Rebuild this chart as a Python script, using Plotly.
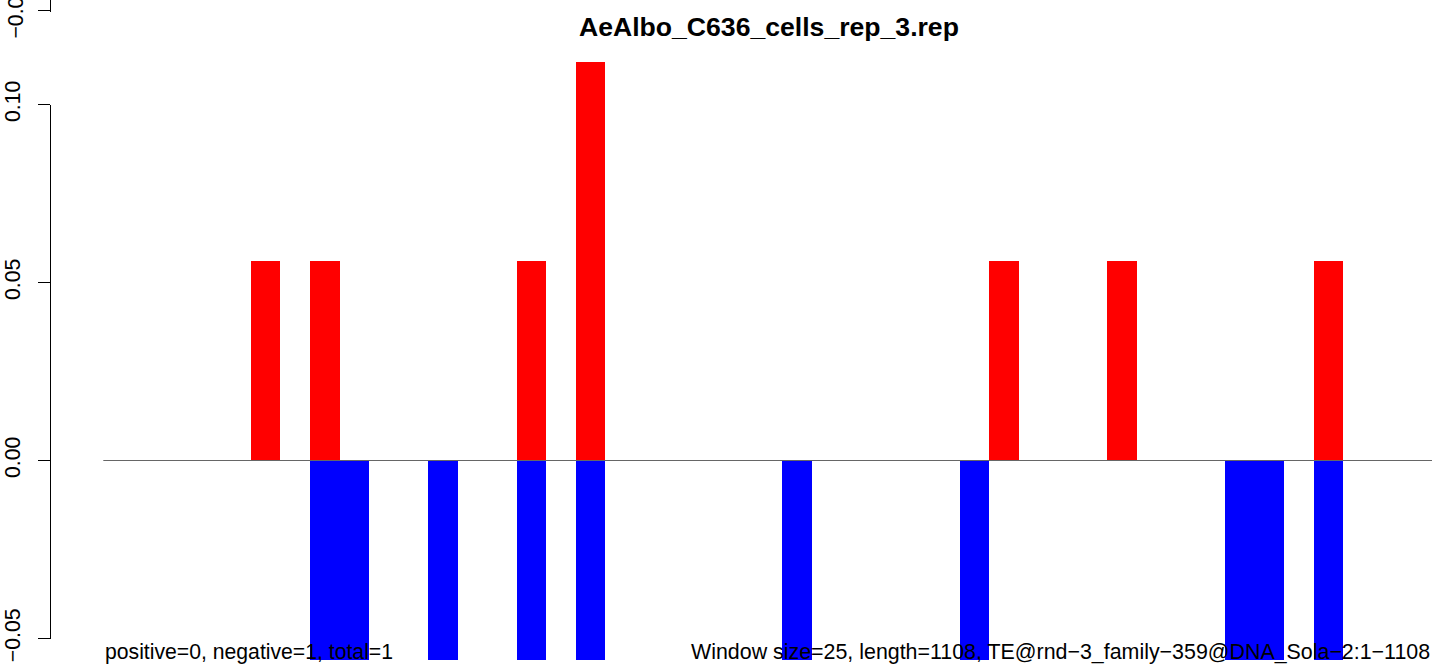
import plotly.graph_objects as go

# ---- data ----
window_index = list(range(45))
pos_values = [0, 0, 0, 0, 0, 0.056, 0, 0.056, 0, 0,
              0, 0, 0, 0, 0.056, 0, 0.112, 0, 0, 0,
              0, 0, 0, 0, 0, 0, 0, 0, 0, 0,
              0.056, 0, 0, 0, 0.056, 0, 0, 0, 0, 0,
              0, 0.056, 0, 0, 0]
neg_values = [0, 0, 0, 0, 0, 0, 0, -0.056, -0.056, 0,
              0, -0.056, 0, 0, -0.056, 0, -0.056, 0, 0, 0,
              0, 0, 0, -0.056, 0, 0, 0, 0, 0, -0.056,
              0, 0, 0, 0, 0, 0, 0, 0, -0.056, -0.056,
              0, -0.056, 0, 0, 0]
y_ticks = [-0.05, 0.00, 0.05, 0.10]
y_tick_labels = ["\u22120.05", "0.00", "0.05", "0.10"]
title_text = "AeAlbo_C636_cells_rep_3.rep"
left_note = "positive=0, negative=1, total=1"
right_note = "Window size=25, length=1108, TE@rnd\u22123_family\u2212359@DNA_Sola\u22122:1\u22121108"

# ---- geometry (pixels) ----
W, H = 1439, 671
x0_px, x1_px = 103.3, 1432.0
n = len(window_index)
ppu_x = (x1_px - x0_px) / n
y0_px = 460.5           # value 0
ppu_y = 178.0 / 0.05    # pixels per unit
axis_x_px = 50.0
font = "Liberation Sans, Arial, Helvetica, sans-serif"

x_range = [-x0_px / ppu_x, (W - x0_px) / ppu_x]
y_range = [-(H - y0_px) / ppu_y, y0_px / ppu_y]

centers = [i + 0.5 for i in window_index]

fig = go.Figure()
fig.add_trace(go.Bar(x=centers, y=pos_values, width=1, marker=dict(color="#FF0000", line=dict(width=0)),
                     showlegend=False, hoverinfo="skip"))
fig.add_trace(go.Bar(x=centers, y=neg_values, width=1, marker=dict(color="#0000FF", line=dict(width=0)),
                     showlegend=False, hoverinfo="skip"))
# zero line
fig.add_trace(go.Scatter(x=[0, n], y=[0, 0], mode="lines", line=dict(color="#666666", width=1),
                         showlegend=False, hoverinfo="skip"))

# axis for main ticks (-0.05..0.10)
top_px = y0_px - 0.10 * ppu_y
bot_px = y0_px + 0.05 * ppu_y
dom2 = [(H - bot_px) / H, (H - top_px) / H]
# partial axis from panel above (tick at ~10 px)
dom3 = [(H - 12.0) / H, 1.0]

fig.add_trace(go.Scatter(x=[None], y=[None], xaxis="x", yaxis="y2", showlegend=False, hoverinfo="skip"))
fig.add_trace(go.Scatter(x=[None], y=[None], xaxis="x", yaxis="y3", showlegend=False, hoverinfo="skip"))

common_axis = dict(
    anchor="free", position=axis_x_px / W, showline=True, linecolor="black", linewidth=1,
    ticks="outside", ticklen=12, tickwidth=1, tickcolor="black", tickangle=-90,
    showgrid=False, zeroline=False, tickfont=dict(family=font, size=21.2, color="black"),
    ticklabelstandoff=10, fixedrange=True, automargin=False,
)

fig.update_layout(
    width=W, height=H,
    margin=dict(l=0, r=0, t=0, b=0, autoexpand=False),
    paper_bgcolor="white", plot_bgcolor="rgba(0,0,0,0)",
    barmode="overlay", bargap=0,
    xaxis=dict(range=x_range, domain=[0, 1], visible=False, fixedrange=True, automargin=False),
    yaxis=dict(range=y_range, domain=[0, 1], visible=False, fixedrange=True, automargin=False),
    yaxis2=dict(range=[-0.05, 0.10], domain=dom2, tickvals=y_ticks, ticktext=y_tick_labels, **common_axis),
    yaxis3=dict(range=[-0.05 - 2.0 / ppu_y, -0.05 + 10.0 / ppu_y], domain=dom3, tickvals=[-0.05],
                showticklabels=False, **common_axis),
    font=dict(family=font, color="black"),
    annotations=[
        dict(text="<b>" + title_text + "</b>", x=768.5 / W, y=(H - 27) / H, xref="paper", yref="paper",
             xanchor="center", yanchor="middle", showarrow=False, font=dict(size=26.6, family=font)),
        dict(text=left_note, x=x0_px / W, y=(H - 652) / H, xref="paper", yref="paper",
             xanchor="left", yanchor="middle", showarrow=False, font=dict(size=21.2, family=font)),
        dict(text=right_note, x=x1_px / W, y=(H - 652) / H, xref="paper", yref="paper",
             xanchor="right", yanchor="middle", showarrow=False, font=dict(size=21.4, family=font)),
        # tick label of the clipped axis from the panel above
        dict(text="\u22120.05", x=15.5 / W, y=(H - 12) / H, xref="paper", yref="paper",
             xanchor="center", yanchor="middle", textangle=-90, showarrow=False,
             font=dict(size=21.2, family=font)),
    ],
)

fig.write_html("out.html", config={"displayModeBar": False},
               post_script="document.body.style.margin='0';document.body.style.overflow='hidden';")
